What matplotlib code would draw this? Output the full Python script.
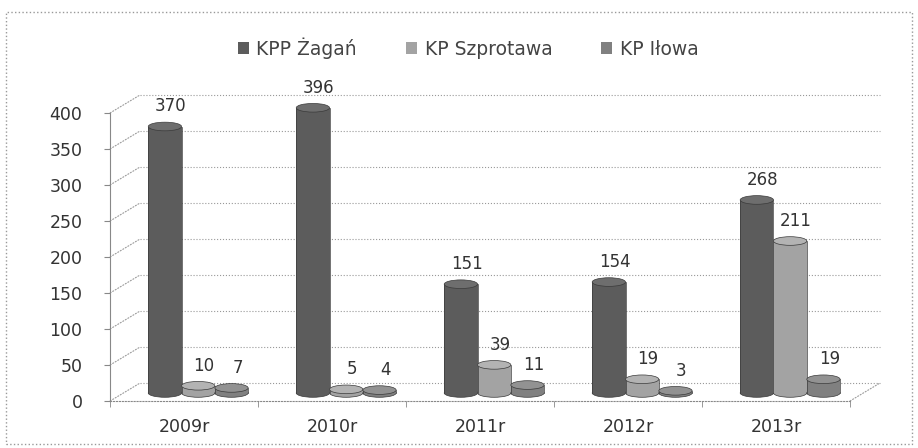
import numpy as np
import matplotlib.pyplot as plt
from matplotlib.patches import Rectangle, Ellipse
from matplotlib.transforms import offset_copy

years = ['2009r', '2010r', '2011r', '2012r', '2013r']
zagan = [370, 396, 151, 154, 268]
szprotawa = [10, 5, 39, 19, 211]
ilowa = [7, 4, 11, 3, 19]
series_names = ['KPP Żagań', 'KP Szprotawa', 'KP Iłowa']
colors = ['#5c5c5c', '#a3a3a3', '#808080']
cap_colors = ['#6e6e6e', '#b3b3b3', '#929292']

fig = plt.figure(figsize=(9.18, 4.48), dpi=100)
ax = fig.add_axes([0.12, 0.105, 0.806, 0.643])
ax.set_xlim(-0.5, len(years) - 0.5)
ax.set_ylim(0, 400)

# back wall of the 3d chart: gridlines shifted right and up
back = offset_copy(ax.transData, fig=fig, x=30, y=18, units='dots')
grid_kw = dict(arrowstyle='-', ls=':', color='#999999', lw=0.8, shrinkA=0, shrinkB=0)
for v in np.arange(0, 401, 50):
    ax.plot([-0.5, len(years) - 0.5], [v, v], transform=back, ls=':', color='#999999',
            lw=0.8, clip_on=False, zorder=0)
    ax.annotate('', xy=(-0.5, v), xycoords=back, xytext=(-0.5, v), textcoords='data',
                arrowprops=grid_kw, zorder=0)
ax.annotate('', xy=(len(years) - 0.5, 0), xycoords=back, xytext=(len(years) - 0.5, 0),
            textcoords='data', arrowprops=grid_kw, zorder=0)

# bars sit a little behind the front edge, drawn as flat cylinders
mid = offset_copy(ax.transData, fig=fig, x=0, y=8, units='dots')
x = np.arange(len(years))
w = 0.225
cap_h = 12
offsets = [-0.13, 0.095, 0.32]
for k, (vals, off, name) in enumerate(zip([zagan, szprotawa, ilowa], offsets, series_names)):
    bars = ax.bar(x + off, vals, width=w, color=colors[k], edgecolor='none',
                  label=name, zorder=3 + k, transform=mid, clip_on=False)
    for b, v in zip(bars, vals):
        cx = b.get_x() + b.get_width() / 2
        ax.add_patch(Ellipse((cx, 0), w, cap_h, transform=mid, facecolor=colors[k],
                             edgecolor='#3a3a3a', lw=0.5, zorder=2.9 + k, clip_on=False))
        ax.plot([b.get_x(), b.get_x()], [0, v], transform=mid, color='#3a3a3a', lw=0.5,
                zorder=3 + k, clip_on=False)
        ax.plot([b.get_x() + w, b.get_x() + w], [0, v], transform=mid, color='#3a3a3a',
                lw=0.5, zorder=3 + k, clip_on=False)
        ax.add_patch(Ellipse((cx, v), w, cap_h, transform=mid, facecolor=cap_colors[k],
                             edgecolor='#3a3a3a', lw=0.5, zorder=3.1 + k, clip_on=False))
        ax.annotate(str(v), (cx + 0.04, v), xycoords=mid,
                    xytext=(0, 8), textcoords='offset points', ha='center', va='bottom',
                    fontsize=12, color='#333333', zorder=10)

ax.set_yticks(np.arange(0, 401, 50))
ax.set_xticks(x)
ax.set_xticklabels(years)
ax.set_xticks(np.arange(-0.5, len(years), 1), minor=True)
ax.tick_params(axis='x', which='major', length=0, pad=12, labelsize=12.5, labelcolor='#333333')
ax.tick_params(axis='x', which='minor', length=4, color='#888888')
ax.tick_params(axis='y', length=4, color='#888888', labelsize=12.5, labelcolor='#333333', pad=16)

for s in ['top', 'right']:
    ax.spines[s].set_visible(False)
ax.spines['left'].set_color('#888888')
ax.spines['bottom'].set_color('#888888')
ax.spines['bottom'].set_linestyle(':')

fig.legend(loc='upper center', bbox_to_anchor=(0.51, 0.955), ncol=3, frameon=False,
           fontsize=13.5, handlelength=0.6, handleheight=0.6, columnspacing=2.6, handletextpad=0.4,
           labelcolor='#444444')

fig.patches.append(Rectangle((0.006, 0.008), 0.988, 0.965, transform=fig.transFigure,
                             fill=False, linestyle=':', edgecolor='#999999', linewidth=1))

fig.savefig('out.png', dpi=100)
